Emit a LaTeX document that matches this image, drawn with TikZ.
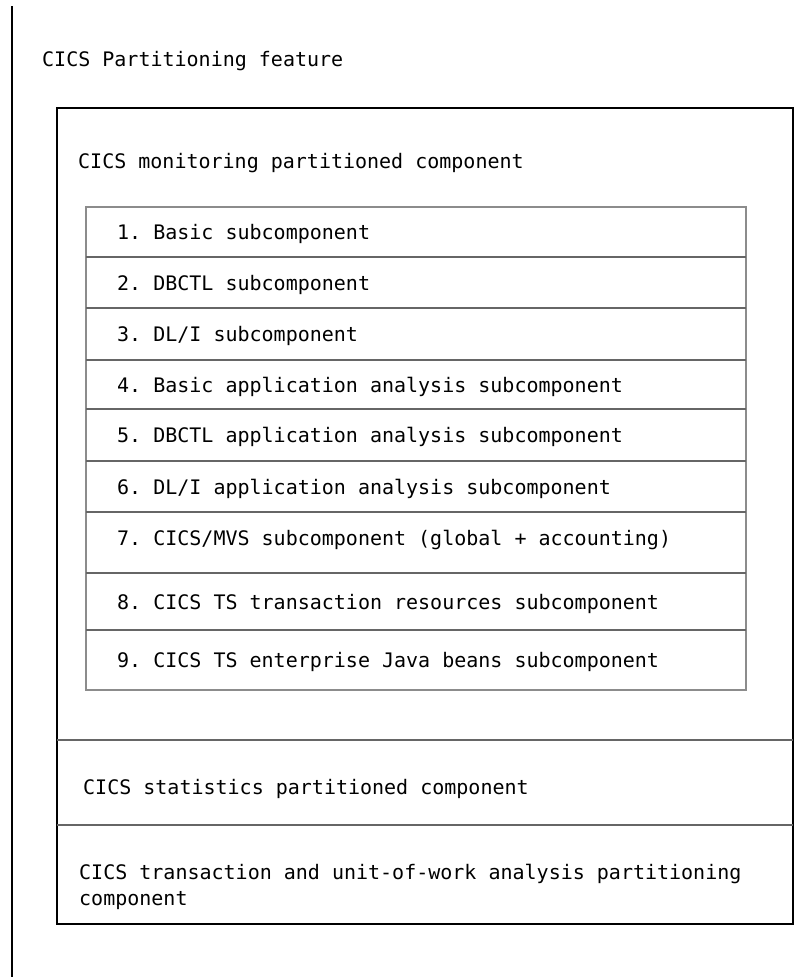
\documentclass[tikz,border=0pt]{standalone}
\usepackage{fontspec}
\usepackage{tikz}
\usetikzlibrary{positioning}
\newfontfamily\cicsmono{DejaVu Sans Mono}
\definecolor{framegray}{HTML}{8C8C8C}
\definecolor{rulegray}{HTML}{666666}
\frenchspacing

\begin{document}
\begin{tikzpicture}[ % GLOBAL CFG
    x=1pt, y=-1pt,
    font=\cicsmono\fontsize{20}{26}\selectfont,
    % Styles
    heavy/.style={% For the black frames
        draw=black,
        line width=2pt,
        },
    frame/.style={% For the frame of the table
        draw=framegray,
        line width=1.1pt,
        },
    rule/.style={% For the rules between rows
        draw=rulegray,
        line width=1.1pt,
        },
    txt/.style={% For text, put on its baseline
        anchor=base west,
        inner sep=0pt,
        },
    ]

    \useasboundingbox (0,0) rectangle (806,977);

    % Feature line on the left
    \coordinate (ftop) at (12,6);
    \coordinate (fbot) at (12,977);
    \draw [heavy] (ftop) -- (fbot);
    \node [txt] (feature) at (42,66) {CICS Partitioning feature};

    % Outer box
    \coordinate (obox1) at (57,108);
    \coordinate (obox2) at (793,924);
    \draw [heavy] (obox1) rectangle (obox2);
    \node [txt] (monitor) at (78,168) {CICS monitoring partitioned component};

    % Table of subcomponents
    \coordinate (tbox1) at (86,207);
    \coordinate (tbox2) at (746,690);
    \draw [frame] (tbox1) rectangle (tbox2);
    \draw [rule] (86,257) -- (746,257);
    \draw [rule] (86,308) -- (746,308);
    \draw [rule] (86,360) -- (746,360);
    \draw [rule] (86,409) -- (746,409);
    \draw [rule] (86,461) -- (746,461);
    \draw [rule] (86,512) -- (746,512);
    \draw [rule] (86,573) -- (746,573);
    \draw [rule] (86,630) -- (746,630);

    \node [txt] (sub1) at (117,239.5) {1. Basic subcomponent};
    \node [txt] (sub2) at (117,290) {2. DBCTL subcomponent};
    \node [txt] (sub3) at (117,341.5) {3. DL/I subcomponent};
    \node [txt] (sub4) at (117,392) {4. Basic application analysis subcomponent};
    \node [txt] (sub5) at (117,442.5) {5. DBCTL application analysis subcomponent};
    \node [txt] (sub6) at (117,494) {6. DL/I application analysis subcomponent};
    \node [txt] (sub7) at (117,545) {7. CICS/MVS subcomponent (global + accounting)};
    \node [txt] (sub8) at (117,609) {8. CICS TS transaction resources subcomponent};
    \node [txt] (sub9) at (117,667.5) {9. CICS TS enterprise Java beans subcomponent};

    % Other partitioned components
    \draw [rule] (57,740) -- (793,740);
    \node [txt] (stats) at (83,794) {CICS statistics partitioned component};
    \draw [rule] (57,825) -- (793,825);
    \node [txt] (trans) at (79,879) {CICS transaction and unit-of-work analysis partitioning};
    \node [txt] (trans2) at (79,905) {component};

\end{tikzpicture}
\end{document}
